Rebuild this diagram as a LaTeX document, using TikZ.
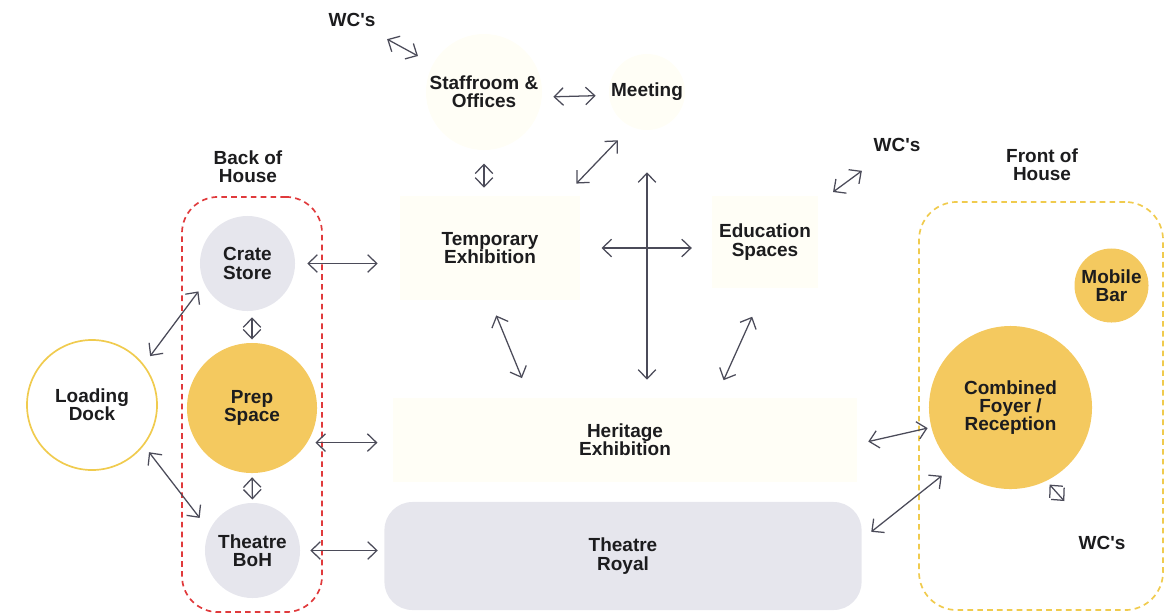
\documentclass[tikz,border=0pt]{standalone}
\usepackage{fontspec}
\setmainfont{Liberation Sans}
\usetikzlibrary{positioning, arrows.meta, shapes.geometric}
\definecolor{ink}{HTML}{1C1C1E}
\definecolor{wire}{HTML}{4B4B59}
\definecolor{cream}{HTML}{FFFEF6}
\definecolor{lilac}{HTML}{E6E6ED}
\definecolor{mustard}{HTML}{F4C95F}
\definecolor{sun}{HTML}{F0CB4E}
\definecolor{brick}{HTML}{E03A3C}
\tikzset{%
	>={Straight Barb[length=6.5pt, width=12.5pt]},
	every node/.style = {font=\bfseries\fontsize{13.5}{13}\selectfont, text=ink, align=center},
	every edge/.append style = {draw=wire, line width=0.9pt},
	tag/.style = {name = #1, inner sep = 2pt},
	faint/.style = {name = #1, fill = cream, inner sep = 0pt},
	cool/.style = {name = #1, circle, fill = lilac, inner sep = 0pt},
	warm/.style = {name = #1, circle, fill = mustard, inner sep = 0pt},
	ring/.style = {name = #1, circle, draw = sun, line width = 1.2pt, inner sep = 0pt},
	zone/.style = {name = #1, line width = 1.2pt, dash pattern = on 4pt off 3pt, inner sep = 0pt}
}

\begin{document}
\begin{tikzpicture}[x=0.025cm, y=-0.025cm]
	\useasboundingbox (0,0) rectangle (1176,614);
	% dashed groups
	\node [zone = {bohzone}, draw = brick, rounded corners = 0.9cm, minimum width = 3.5cm, minimum height = 10.375cm] at (252,404.5) {};
	\node [zone = {fohzone}, draw = sun, rounded corners = 0.95cm, minimum width = 6.1cm, minimum height = 10.2cm] at (1041,406) {};
	\node [tag = {backlbl}] at (248,167) {Back of\\House};
	\node [tag = {frontlbl}] at (1042,165) {Front of\\House};

	% central spaces
	\node [faint = {staff}, circle, minimum size = 2.9cm] at (484,92) {Staffroom \&\\Offices};
	\node [faint = {meet}, circle, minimum size = 1.9cm] at (647,92) {Meeting};
	\node [faint = {temp}, minimum width = 4.5cm, minimum height = 2.6cm] at (490,248) {Temporary\\Exhibition};
	\node [faint = {edu}, minimum width = 2.625cm, minimum height = 2.3cm] at (765,242) {Education\\Spaces};
	\node [faint = {herit}, minimum width = 11.6cm, minimum height = 2.1cm] at (625,440) {Heritage\\Exhibition};
	\node [name = royal, fill = lilac, rounded corners = 0.7cm, minimum width = 11.925cm, minimum height = 2.7cm] at (623,556) {Theatre\\Royal};
	\node [tag = {wcup}] at (352,20) {WC\textquotesingle s};
	\node [tag = {wcedu}] at (897,145) {WC\textquotesingle s};

	% back of house
	\node [cool = {crate}, minimum size = 2.375cm] at (247.5,263.5) {Crate\\Store};
	\node [warm = {prep}, minimum size = 3.25cm] at (252,408) {Prep\\Space};
	\node [cool = {theboh}, minimum size = 2.375cm] at (252.5,550.5) {Theatre\\BoH};
	\node [ring = {dock}, minimum size = 3.25cm] at (92,405) {Loading\\Dock};

	% front of house
	\node [warm = {bar}, minimum size = 1.85cm] at (1111.5,285.5) {Mobile\\Bar};
	\node [warm = {foyer}, minimum size = 4.075cm] at (1010.5,407.5) {Combined\\Foyer /\\Reception};
	\node [tag = {wcfoh}] at (1102,543) {WC\textquotesingle s};

	% links
	\path [<->] (wcup.center) edge [shorten < = 1.0cm, shorten > = 1.88cm] (staff.center);
	\path [<->] (staff.-5) edge [shorten < = 0.28cm, shorten > = 0.33cm] (meet.185);
	\path [<->] (staff.south) edge [shorten < = 0.33cm, shorten > = 0.2cm] (staff.south |- temp.north);
	\path [<->] (meet.245) edge [shorten < = 0.47cm, shorten > = 0.42cm] (temp.35);
	\path [<->] (meet.south) edge [shorten < = 1.05cm, shorten > = 0.45cm] (meet.south |- herit.north);
	\path [<->] (temp.east) edge [shorten < = 0.53cm, shorten > = 0.51cm] (temp.east -| edu.west);
	\path [<->] (wcedu.center) edge [shorten < = 1.09cm, shorten > = 2.11cm] (edu.center);
	\path [<->] (temp.south) edge [shorten < = 0.41cm, shorten > = 0.53cm] (herit.156);
	\path [<->] (edu.south) edge [shorten < = 0.78cm, shorten > = 0.48cm] (herit.25);

	\path [<->] (dock.38) edge [shorten < = 0.26cm, shorten > = 0.24cm] (crate.205);
	\path [<->] (dock.-38) edge [shorten < = 0.21cm, shorten > = 0.39cm] (theboh.155);
	\path [<->] (prep.north |- crate.south) edge [shorten < = 0.15cm, shorten > = 0.08cm] (prep.north);
	\path [<->] (prep.south) edge [shorten < = 0.1cm, shorten > = 0.08cm] (theboh.north);
	\path [<->] (crate.east) edge [shorten < = 0.3cm, shorten > = 0.55cm] (crate.east -| temp.west);
	\path [<->] (prep.-32) edge [shorten < = 0.2cm, shorten > = 0.38cm] (prep.-32 -| herit.west);
	\path [<->] (theboh.east) edge [shorten < = 0.25cm, shorten > = 0.16cm] (theboh.east -| royal.west);

	\path [<->] (herit.-1.5) edge [shorten < = 0.28cm, shorten > = 0.09cm] (foyer.194);
	\path [<->] (royal.4.7) edge [shorten < = 0.3cm, shorten > = 0.38cm] (foyer.226);
	\path [<->] (foyer.-64) edge [shorten < = 0.12cm, shorten > = 1.41cm] (wcfoh.center);
\end{tikzpicture}
\end{document}
